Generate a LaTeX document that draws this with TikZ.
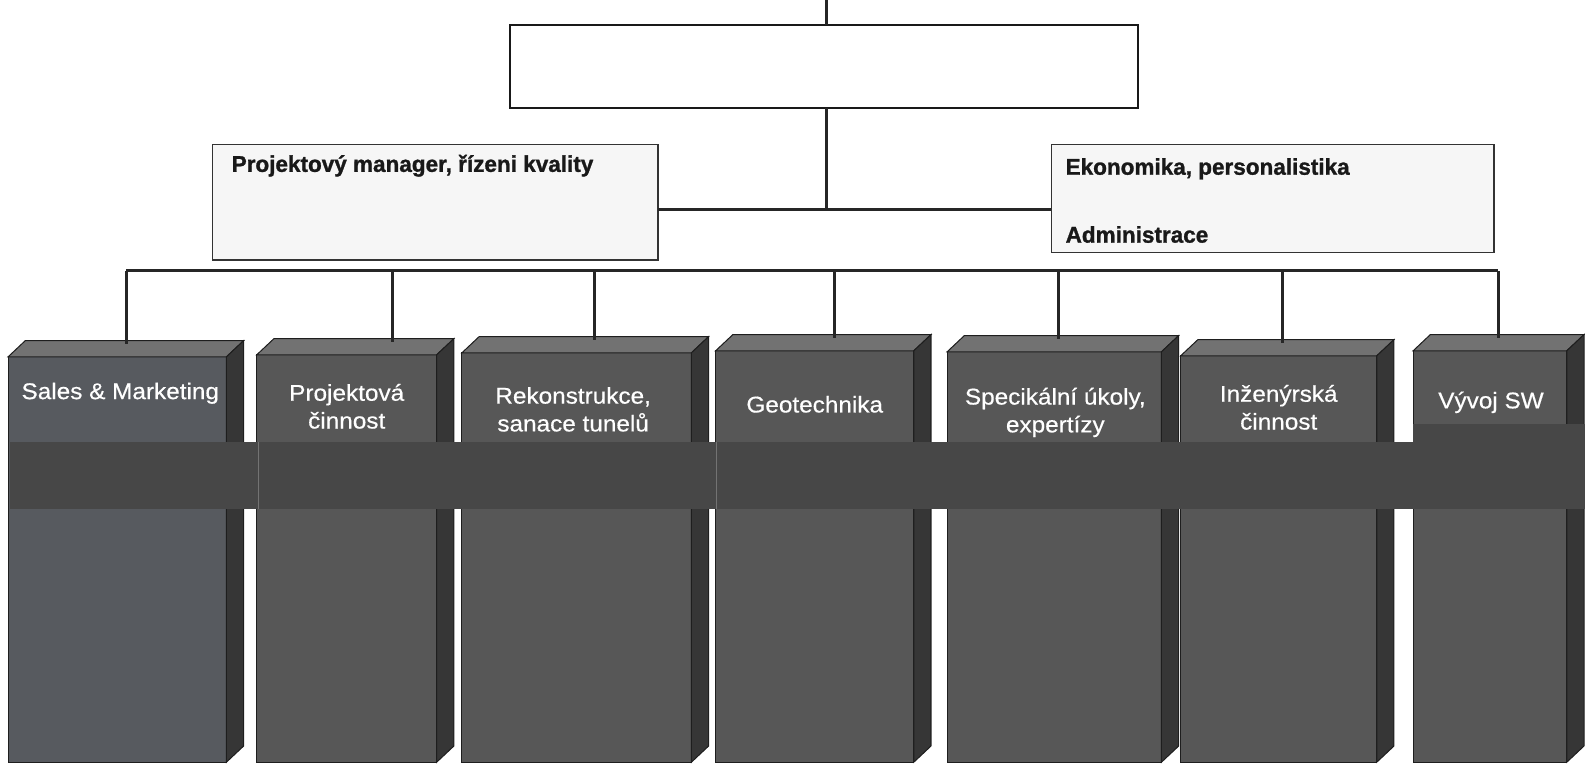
\documentclass[tikz,border=0pt]{standalone}
\usepackage{fontspec}
\setmainfont{Liberation Sans}
\newfontfamily\headfont[FakeStretch=0.99,FakeBold=1.2]{Liberation Sans}
\newfontfamily\cubefont[FakeStretch=1.07,FakeBold=0.5]{Liberation Sans}
\usetikzlibrary{calc}
\definecolor{frontc}{HTML}{575757}
\definecolor{frontb}{HTML}{575A5F}
\definecolor{topc}{HTML}{727272}
\definecolor{sidec}{HTML}{363636}
\definecolor{edgec}{HTML}{1E1E1E}
\definecolor{bandc}{HTML}{474747}
\definecolor{paleboxc}{HTML}{F6F6F6}
\tikzset{
  lnk/.style={line width=3pt, draw=black!85},
  topbox/.style={draw=black!90, line width=2pt, fill=white, inner sep=0pt, outer sep=0pt},
  palebox/.style={draw=black!80, line width=1.5pt, fill=paleboxc, inner sep=0pt, outer sep=0pt},
  frontface/.style={draw=edgec, line width=1pt, inner sep=0pt, outer sep=0pt},
  toplabel/.style={font=\headfont\bfseries\fontsize{22.5}{26}\selectfont, text=black!90, anchor=west, inner sep=0pt},
  boxlabel/.style={font=\cubefont\fontsize{22.5}{27.5}\selectfont, text=white, align=center, inner sep=0pt},
  bandstyle/.style={fill=bandc, draw=none},
}
% name, x1, x2, ytop (front), ybot, colour
\newcommand\threedbox[6]{%
  \node[frontface, fill=#6, minimum width={(#3-#2)*1pt}, minimum height={(#5-#4)*1pt}] (#1) at ({(#2+#3)/2},{(#4+#5)/2}) {};
  \filldraw[fill=topc, draw=edgec, line width=1pt] (#1.north west) -- ++(17,-16) -- ++({#3-#2},0) -- (#1.north east) -- cycle;
  \filldraw[fill=sidec, draw=edgec, line width=1pt] (#1.north east) -- ++(17,-16) -- ++(0,{#5-#4}) -- (#1.south east) -- cycle;
}
\begin{document}
\begin{tikzpicture}[x=1pt,y=-1pt]
\useasboundingbox (0,0) rectangle (1568,755);

% upper part
\coordinate (topend) at (818,0);
\node[topbox, minimum width=621pt, minimum height=82pt] (top) at (815.5,66) {};
\node[palebox, minimum width=441pt, minimum height=114pt] (lbox) at (430.5,200) {};
\node[palebox, minimum width=438pt, minimum height=107pt] (rbox) at (1259,196.5) {};
\coordinate (j) at (818,207);
\draw[lnk] (topend) -- (top.north -| topend);
\draw[lnk] (top.south -| j) -- (j);
\draw[lnk] (lbox.east |- j) -- (rbox.west |- j);

\node[toplabel] (lt) at (229,164) {Projektový manager, řízeni kvality};
\node[toplabel] (rt1) at (1054,167) {Ekonomika, personalistika};
\node[toplabel] (rt2) at (1054,232) {Administrace};

% boxes
\threedbox{b1}{8}{224}{353}{754}{frontb}
\threedbox{b2}{254}{432}{351}{754}{frontc}
\threedbox{b3}{457}{684}{349}{754}{frontc}
\threedbox{b4}{708}{904}{347}{754}{frontc}
\threedbox{b5}{937}{1149}{348}{754}{frontc}
\threedbox{b6}{1168}{1362}{352}{754}{frontc}
\threedbox{b7}{1398}{1550}{347}{754}{frontc}

% bus
\coordinate (c1) at (125,268);
\coordinate (c2) at (388,268);
\coordinate (c3) at (588,268);
\coordinate (c4) at (826,268);
\coordinate (c5) at (1047,268);
\coordinate (c6) at (1269,268);
\coordinate (c7) at (1482,268);
\draw[lnk] (c1) -- (c7);
\foreach \i/\yy in {1/340,2/338,3/336,4/334,5/335,6/339,7/334}{
  \draw[lnk] (c\i) -- ($(c\i)+(0,\yy-268)$);
}

% bands
\fill[bandstyle] (10,437) rectangle (1398,504);
\fill[bandstyle] (1398,419) rectangle (1568,504);
\draw[black!55, line width=0.6pt] (256,437) -- (256,504);
\draw[black!55, line width=0.6pt] (709,437) -- (709,504);

% labels
\node[boxlabel] (l1) at (119,389) {Sales \& Marketing};
\node[boxlabel] (l2) at (343,402) {Projektová\\činnost};
\node[boxlabel] (l3) at (567,405) {Rekonstrukce,\\sanace tunelů};
\node[boxlabel] (l4) at (806,400) {Geotechnika};
\node[boxlabel] (l5) at (1044,408) {Specikální úkoly,\\expertízy};
\node[boxlabel] (l6) at (1265,403) {Inženýrská\\činnost};
\node[boxlabel] (l7) at (1475,398) {Vývoj SW};
\end{tikzpicture}
\end{document}
